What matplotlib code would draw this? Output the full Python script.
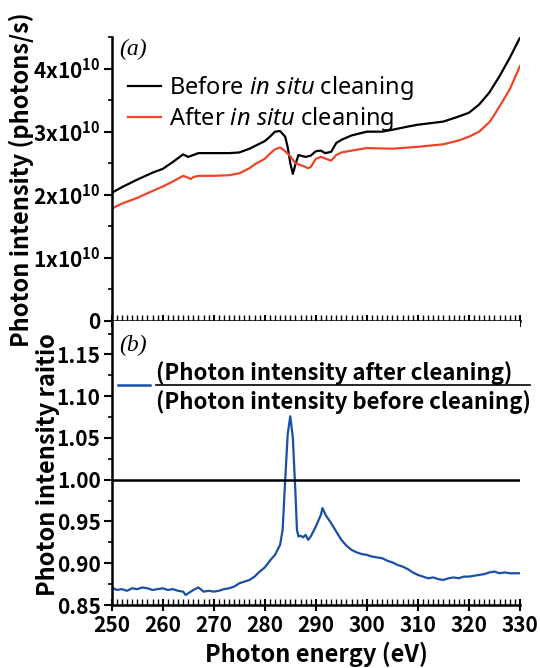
import numpy as np
import matplotlib
matplotlib.use('Agg')
from matplotlib import pyplot as plt
from matplotlib.ticker import MultipleLocator, FuncFormatter
from matplotlib.lines import Line2D

plt.rcParams['font.family'] = ['Noto Sans CJK JP', 'DejaVu Sans']
plt.rcParams['mathtext.fontset'] = 'custom'
plt.rcParams['mathtext.rm'] = 'Noto Sans'
plt.rcParams['mathtext.it'] = 'Noto Sans:italic'
plt.rcParams['mathtext.bf'] = 'Noto Sans CJK JP:bold'

#######################################################################
# data
# (a) photon intensity, units of 1e10 photons/s
e_before = [250, 252, 255, 258, 260, 262, 263, 264, 265, 266, 267, 270, 273, 275, 277, 278,
            280, 281, 282, 283, 284, 284.5, 285, 285.5, 286, 286.6, 287.5, 288, 289, 290,
            291, 291.8, 293, 294, 295, 297, 300, 303, 305, 308, 310, 313, 315, 318, 320,
            322, 324, 325, 326, 328, 330]
before = [2.03, 2.12, 2.24, 2.35, 2.41, 2.52, 2.58, 2.64, 2.60, 2.63, 2.66, 2.66, 2.66, 2.67,
          2.73, 2.77, 2.85, 2.92, 3.00, 3.01, 2.92, 2.75, 2.50, 2.33, 2.48, 2.63, 2.61, 2.60,
          2.62, 2.69, 2.70, 2.66, 2.68, 2.82, 2.87, 2.94, 3.00, 3.00, 3.03, 3.08, 3.11, 3.14,
          3.16, 3.24, 3.30, 3.43, 3.62, 3.75, 3.88, 4.17, 4.49]

e_after = [250, 252, 255, 258, 260, 262, 264, 265, 265.5, 266, 267, 270, 273, 275, 277, 278,
           280, 281, 282, 283, 284, 285, 286, 287, 288, 288.5, 289, 290, 291, 292, 293, 294,
           295, 297, 300, 305, 310, 315, 318, 320, 322, 324, 325, 326, 328, 330]
after = [1.78, 1.86, 1.95, 2.06, 2.13, 2.21, 2.30, 2.27, 2.25, 2.28, 2.30, 2.30, 2.31, 2.34,
         2.42, 2.48, 2.57, 2.65, 2.72, 2.75, 2.69, 2.61, 2.50, 2.47, 2.44, 2.42, 2.44, 2.57,
         2.60, 2.57, 2.54, 2.63, 2.67, 2.70, 2.74, 2.73, 2.76, 2.80, 2.86, 2.92, 3.00, 3.15,
         3.27, 3.40, 3.67, 4.04]

# (b) ratio after / before
e_ratio = [250, 251, 252, 253, 254, 255, 256, 257, 258, 259, 260, 261, 262, 263, 264, 264.5,
           265, 266, 267, 268, 269, 270, 271, 272, 273, 274, 275, 276, 277, 278, 279, 280,
           281, 282, 283, 283.5, 284, 284.5, 285, 285.5, 286, 286.3, 286.6, 287, 287.5, 288,
           288.5, 289, 290, 291, 291.3, 292, 293, 294, 295, 296, 297, 298, 299, 300, 301,
           302, 303, 304, 305, 306, 307, 308, 309, 310, 311, 312, 313, 314, 315, 316, 317,
           318, 319, 320, 321, 322, 323, 324, 325, 326, 327, 328, 329, 330]
ratio = [0.871, 0.868, 0.869, 0.867, 0.870, 0.869, 0.871, 0.870, 0.868, 0.869, 0.870, 0.868,
         0.869, 0.867, 0.866, 0.862, 0.864, 0.868, 0.871, 0.866, 0.867, 0.866, 0.867, 0.869,
         0.870, 0.872, 0.876, 0.878, 0.880, 0.884, 0.890, 0.895, 0.903, 0.910, 0.922, 0.940,
         1.000, 1.055, 1.076, 1.050, 0.985, 0.940, 0.932, 0.933, 0.931, 0.934, 0.928, 0.932,
         0.944, 0.958, 0.966, 0.957, 0.948, 0.938, 0.928, 0.921, 0.916, 0.913, 0.911, 0.910,
         0.908, 0.907, 0.906, 0.903, 0.901, 0.898, 0.896, 0.893, 0.889, 0.886, 0.884, 0.882,
         0.883, 0.881, 0.880, 0.882, 0.883, 0.882, 0.884, 0.884, 0.885, 0.886, 0.887, 0.889,
         0.890, 0.888, 0.889, 0.888, 0.888, 0.888]

x_ticks = [250, 260, 270, 280, 290, 300, 310, 320, 330]
#######################################################################

BLUE = '#1a4fa6'
RED = '#ee4528'

fig = plt.figure(figsize=(5.4, 6.68), dpi=100)
ax1 = fig.add_axes([0.2068, 0.5195, 0.7561, 0.4251])
ax2 = fig.add_axes([0.2068, 0.0943, 0.7561, 0.4252])

# top panel
ax1.plot(e_before, np.array(before) * 1e10, color='black', lw=1.6,
         label=r'Before $\it{in\ situ}$ cleaning')
ax1.plot(e_after, np.array(after) * 1e10, color=RED, lw=1.6,
         label=r'After $\it{in\ situ}$ cleaning')
ax1.set_xlim(250, 330)
ax1.set_ylim(0, 4.5e10)
ax1.yaxis.set_major_locator(MultipleLocator(1e10))
ax1.yaxis.set_minor_locator(MultipleLocator(0.5e10))


def sci_fmt(v, pos):
    n = int(round(v / 1e10))
    if n == 0:
        return '0'
    return r'$\mathbf{%dx10^{10}}$' % n


ax1.yaxis.set_major_formatter(FuncFormatter(sci_fmt))
ax1.set_xticks(x_ticks)
ax1.xaxis.set_minor_locator(MultipleLocator(1))
ax1.tick_params(axis='x', labelbottom=False)

leg = ax1.legend(loc='upper left', bbox_to_anchor=(0.04, 0.87), frameon=False,
                 handlelength=1.4, handletextpad=0.35,
                 labelspacing=0.15, borderpad=0, borderaxespad=0,
                 prop={'family': 'Noto Sans', 'size': 17})
ax1.text(0.018, 0.955, '(a)', transform=ax1.transAxes, ha='left', va='center',
         fontsize=17, family='Liberation Serif', style='italic')

# bottom panel
ax2.plot(e_ratio, ratio, color=BLUE, lw=1.6)
ax2.axhline(1.0, color='black', lw=1.8)
ax2.set_xlim(250, 330)
ax2.set_ylim(0.85, 1.19)
ax2.set_yticks([0.85, 0.90, 0.95, 1.00, 1.05, 1.10, 1.15])
ax2.yaxis.set_minor_locator(MultipleLocator(0.025))
ax2.yaxis.set_major_formatter(FuncFormatter(lambda v, p: '%.2f' % v))
ax2.set_xticks(x_ticks)
ax2.xaxis.set_minor_locator(MultipleLocator(1))

# hand-drawn legend for the ratio: key line + fraction
ax2.add_line(Line2D([0.016, 0.094], [0.775, 0.775], transform=ax2.transAxes,
                    color=BLUE, lw=1.8))
ax2.add_line(Line2D([0.108, 1.025], [0.775, 0.775], transform=ax2.transAxes,
                    color='black', lw=1.2, clip_on=False))
ax2.text(0.108, 0.817, '(Photon intensity after cleaning)', transform=ax2.transAxes,
         ha='left', va='center', fontsize=16, fontweight='bold')
ax2.text(0.108, 0.713, '(Photon intensity before cleaning)', transform=ax2.transAxes,
         ha='left', va='center', fontsize=16, fontweight='bold')
ax2.text(0.018, 0.915, '(b)', transform=ax2.transAxes, ha='left', va='center',
         fontsize=17, family='Liberation Serif', style='italic')

for ax in (ax1, ax2):
    ax.spines['top'].set_visible(False)
    ax.spines['right'].set_visible(False)
    ax.spines['left'].set_linewidth(1.8)
    ax.spines['bottom'].set_linewidth(1.8)
    ax.tick_params(axis='y', which='major', direction='out', length=6, width=1.5,
                   labelsize=15, pad=2)
    ax.tick_params(axis='y', which='minor', direction='out', length=3, width=1.2)
    ax.tick_params(axis='x', which='major', direction='inout', length=8, width=1.5,
                   labelsize=15, pad=3)
    ax.tick_params(axis='x', which='minor', direction='in', length=4, width=1.0)
    for lab in ax.get_yticklabels() + ax.get_xticklabels():
        lab.set_fontweight('bold')

fig.text(0.5854, 0.002, 'Photon energy (eV)', ha='center', va='bottom',
         fontsize=17, fontweight='bold')
fig.text(0.040, 0.7305, 'Photon intensity (photons/s)', rotation=90, ha='center',
         va='center', fontsize=17, fontweight='bold')
fig.text(0.088, 0.304, 'Photon intensity raitio', rotation=90, ha='center',
         va='center', fontsize=17, fontweight='bold')

fig.savefig('out.png', dpi=100)
